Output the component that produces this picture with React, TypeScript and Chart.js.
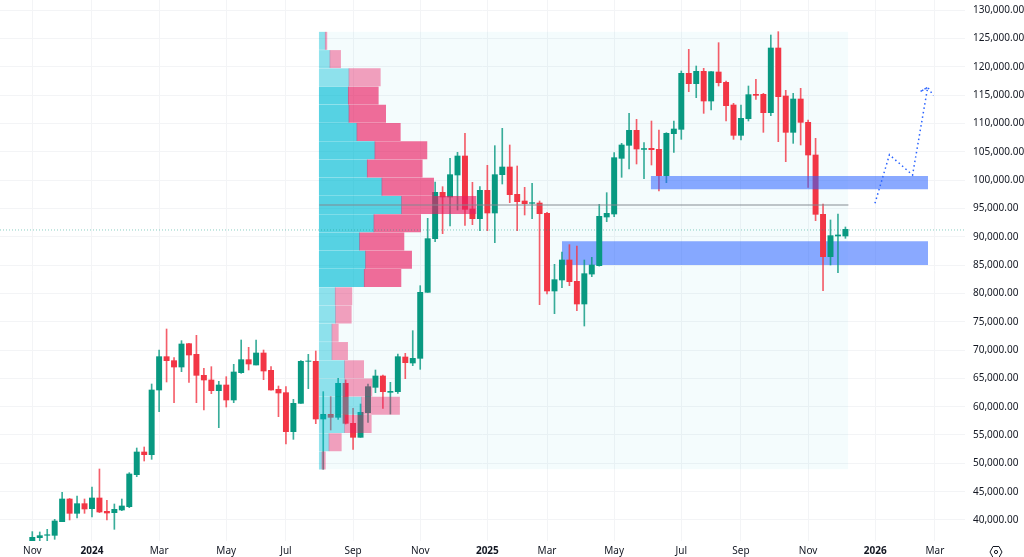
import React, { useEffect, useRef } from "react";
import { Chart, registerables } from "chart.js";

Chart.register(...registerables);

// weekly candles, first one is the week of 6 Nov 2023
const opens = [
  35040, 36885, 37300, 37294, 39706, 43706, 41177, 42884, 42000, 43884,
  41530, 41294, 41765, 42354, 48000, 52000, 51530, 62942, 68824, 68118,
  67000, 71118, 69236, 65530, 64706, 62824, 63824, 61177, 66000, 68294,
  67353, 69471, 66412, 63059, 62471, 55589, 60589, 68000, 68000, 57824,
  58648, 58118, 64118, 57059, 54589, 58941, 63412, 65412, 62530, 62647,
  68765, 67706, 68530, 80177, 89648, 97824, 97000, 100883, 104235, 94883,
  93176, 98176, 94176, 100941, 102294, 97470, 96294, 95883, 95941, 94118,
  80412, 82353, 85883, 82118, 78118, 83400, 84883, 93470, 94000, 103824,
  106118, 108765, 105400, 105588, 105412, 100765, 108176, 108941, 118823, 117000,
  119176, 113941, 119059, 117235, 113235, 107882, 110824, 115118, 115118, 111882,
  123294, 114823, 108412, 114294, 110177, 104412, 93942, 86472, 90118, 90118,
];
const highs = [
  37950, 37885, 38355, 40120, 44883, 43800, 44237, 43706, 45825, 49000,
  43472, 42825, 43706, 48354, 52706, 52883, 64000, 70000, 73706, 68647,
  71647, 71177, 72588, 66765, 67059, 64470, 65294, 67471, 71765, 70471,
  71765, 70000, 67059, 63647, 63530, 61294, 68118, 69236, 69824, 62648,
  61765, 65000, 64706, 59706, 60470, 64000, 66470, 65590, 64294, 69294,
  69412, 73412, 81353, 93236, 99647, 98824, 103823, 104882, 108235, 99588,
  98824, 102588, 106059, 109117, 106176, 102471, 98706, 99412, 96294, 94294,
  85118, 87294, 88588, 88353, 85883, 86353, 95706, 97765, 104823, 106471,
  111765, 110706, 106588, 110412, 108824, 108353, 110412, 119235, 123058, 120117,
  119705, 119117, 124235, 117470, 113529, 113235, 116588, 117765, 115294, 125588,
  126176, 115823, 115294, 116177, 110589, 107353, 95765, 92942, 94000, 91707,
];
const lows = [
  34530, 36300, 36355, 36590, 39700, 40000, 40355, 41177, 40530, 41300,
  40000, 38355, 41650, 42177, 47650, 50413, 50707, 59118, 64353, 60706,
  66177, 64295, 60706, 59412, 62294, 56294, 59942, 60706, 65883, 66471,
  67353, 64765, 62900, 58236, 53412, 54236, 60589, 63177, 57000, 48941,
  55883, 57765, 56941, 52470, 54589, 57235, 62470, 59706, 58706, 62353,
  64942, 67236, 66589, 80177, 89118, 90530, 91883, 94706, 92000, 92118,
  91059, 91059, 88941, 99294, 96000, 91059, 93824, 93176, 78000, 79882,
  76412, 81000, 81353, 76941, 74235, 82941, 84800, 92647, 93530, 100471,
  101942, 102824, 100236, 102647, 98060, 99530, 104883, 107177, 115588, 114530,
  111765, 112353, 116588, 110412, 107177, 107059, 110412, 114235, 108412, 111353,
  106765, 103235, 106470, 106177, 98706, 92824, 80472, 85000, 83648, 89707,
];
const closes = [
  36943, 37236, 37400, 39825, 43706, 41177, 42884, 41943, 43884, 41413,
  41236, 41883, 42471, 48120, 52000, 51530, 62942, 68824, 68118, 67000,
  71059, 69118, 65530, 64706, 62824, 63824, 61177, 66118, 68294, 67530,
  69471, 66294, 62942, 62412, 55589, 60589, 68000, 68060, 57824, 58648,
  58118, 64118, 57059, 54589, 59000, 63530, 65412, 62647, 62700, 68824,
  67765, 68530, 80177, 89648, 97824, 97000, 100942, 104235, 94824, 93176,
  98176, 94176, 100941, 102294, 97412, 96176, 95824, 96000, 94059, 80412,
  82412, 85883, 82059, 78118, 83471, 85000, 93588, 94118, 103941, 106177,
  108765, 105471, 105550, 105353, 100765, 108236, 109000, 118823, 117000, 119176,
  113941, 119117, 117176, 113118, 107882, 110882, 115059, 114941, 111882, 123294,
  114705, 108412, 114294, 110177, 104412, 93942, 86472, 90177, 90300, 91295,
];

// volume profile, top row first, widths are in candle widths
const profileStart = 38.47;
const profileEnd = 109.4;
const rowPrices = [
  124560, 121340, 118120, 114900, 111680, 108460, 105240, 102020,
  98800, 95580, 92360, 89140, 85920, 82700, 79480, 76260,
  73040, 69820, 66600, 63380, 60160, 56940, 53720, 50500,
];
const upVolume = [
  0.8, 1.43, 3.98, 3.89, 3.98, 5.05, 7.46, 6.43,
  8.4, 11.04, 7.33, 5.41, 6.21, 6.03, 2.14, 2.19,
  1.7, 1.7, 3.4, 3.44, 5.67, 3.4, 1.3, 0.36,
];
const downVolume = [
  0.22, 1.43, 4.2, 4.02, 4.92, 5.81, 6.97, 7.37,
  6.93, 9.96, 6.26, 5.94, 6.17, 4.92, 2.23, 2.1,
  0.85, 2.1, 2.55, 3.62, 5.09, 3.57, 1.65, 0.45,
];
const valueAreaFirst = 3;
const valueAreaLast = 13;
const profileTop = 126170;
const profileBottom = 48947;
const pocPrice = 95600;
const lastPrice = 91180;

// blue zones: first bar, last bar, top, bottom
const upperZone = [82.9, 120.07, 100700, 98350];
const lowerZone = [71, 120.07, 89200, 85000];

// hand drawn arrow
const arrowX = [112.96, 114.9, 118, 120.03, 119, 120.03, 120.8];
const arrowY = [95888, 104465, 100882, 116359, 115582, 116359, 114877];

const xTicks = [0, 8, 17, 26, 34, 43, 52, 61, 69, 78, 87, 95, 104, 113, 121];
const xLabels = [
  "Nov", "2024", "Mar", "May", "Jul", "Sep", "Nov", "2025",
  "Mar", "May", "Jul", "Sep", "Nov", "2026", "Mar",
];
const yTicks = [
  40000, 45000, 50000, 55000, 60000, 65000, 70000, 75000, 80000, 85000,
  90000, 95000, 100000, 105000, 110000, 115000, 120000, 125000, 130000,
];

const UP = "#089981";
const DOWN = "#F23645";
const UP_WICK = "rgba(8,153,129,0.8)";
const DOWN_WICK = "rgba(242,54,69,0.8)";
const FONT = "'Noto Sans', sans-serif";

const isYear = (label: string) => /^\d{4}$/.test(label);

const App: React.FC = () => {
  const canvasRef = useRef<HTMLCanvasElement | null>(null);

  useEffect(() => {
    if (!canvasRef.current) return;
    const ctx = canvasRef.current.getContext("2d");
    if (!ctx) return;

    const xMin = -4.33;
    const xMax = 125.03;

    const isUp = (i: number) => closes[i] >= opens[i];

    // filled rectangle between two prices
    const box = (x0: number, x1: number, top: number, bottom: number, color: string, order: number) => ({
      type: "line" as const,
      data: [
        { x: x0, y: top },
        { x: x1, y: top },
      ],
      borderWidth: 0,
      pointRadius: 0,
      backgroundColor: color,
      fill: { value: bottom },
      order,
    });

    const chart = new Chart(ctx, {
      type: "bar",
      data: {
        datasets: [
          box(profileStart, profileEnd, profileTop, profileBottom, "rgba(0,188,212,0.045)", 10),
          box(lowerZone[0], lowerZone[1], lowerZone[2], lowerZone[3], "rgba(41,98,255,0.55)", 9),
          {
            // wicks
            data: opens.map((_, i) => ({ x: i, y: [lows[i], highs[i]] })),
            backgroundColor: (c: any) => (isUp(c.dataIndex) ? UP_WICK : DOWN_WICK),
            barThickness: 1,
            grouped: false,
            order: 8,
          },
          {
            // bodies
            data: opens.map((o, i) => ({ x: i, y: [o, closes[i]] })),
            backgroundColor: (c: any) => (isUp(c.dataIndex) ? UP : DOWN),
            barThickness: 5.3,
            grouped: false,
            order: 7,
          },
          {
            indexAxis: "y",
            data: rowPrices.map((p, i) => ({
              y: p,
              x: [profileStart, profileStart + upVolume[i]],
            })),
            backgroundColor: (c: any) =>
              c.dataIndex >= valueAreaFirst && c.dataIndex <= valueAreaLast
                ? "rgba(0,188,212,0.65)"
                : "rgba(0,188,212,0.42)",
            barThickness: 17.3,
            grouped: false,
            order: 6,
          },
          {
            indexAxis: "y",
            data: rowPrices.map((p, i) => ({
              y: p,
              x: [profileStart + upVolume[i], profileStart + upVolume[i] + downVolume[i]],
            })),
            backgroundColor: (c: any) =>
              c.dataIndex >= valueAreaFirst && c.dataIndex <= valueAreaLast
                ? "rgba(233,30,99,0.65)"
                : "rgba(233,30,99,0.42)",
            barThickness: 17.3,
            grouped: false,
            order: 5,
          },
          {
            type: "line",
            data: [
              { x: profileStart, y: pocPrice },
              { x: profileEnd, y: pocPrice },
            ],
            borderColor: "rgba(131,137,145,0.65)",
            borderWidth: 1.5,
            pointRadius: 0,
            order: 4,
          },
          box(upperZone[0], upperZone[1], upperZone[2], upperZone[3], "rgba(41,98,255,0.55)", 3),
          {
            type: "line",
            data: [
              { x: xMin, y: lastPrice },
              { x: xMax, y: lastPrice },
            ],
            borderColor: "rgba(8,153,129,0.6)",
            borderWidth: 0.8,
            borderDash: [1, 2],
            pointRadius: 0,
            order: 2,
          },
          {
            type: "line",
            data: arrowX.map((x, i) => ({ x, y: arrowY[i] })),
            borderColor: "#2962FF",
            borderWidth: 1.5,
            borderDash: [1.5, 3],
            pointRadius: 0,
            tension: 0,
            order: 1,
          },
        ] as any,
      },
      options: {
        animation: false,
        responsive: false,
        events: [],
        layout: { padding: 0 },
        plugins: {
          legend: { display: false },
          tooltip: { enabled: false },
        },
        scales: {
          x: {
            type: "linear",
            min: xMin,
            max: xMax,
            offset: false,
            grid: { color: "#f3f4f6", drawTicks: false, offset: false },
            border: { display: false },
            afterBuildTicks: (scale: any) => {
              scale.ticks = xTicks.map((value) => ({ value }));
            },
            afterFit: (scale: any) => {
              scale.height = 16;
              scale.paddingLeft = 0;
              scale.paddingRight = 0;
            },
            ticks: {
              autoSkip: false,
              maxRotation: 0,
              padding: 4,
              color: "#131722",
              font: (c: any) => {
                const label = xLabels[xTicks.indexOf(c.tick?.value)] ?? "";
                return { family: FONT, size: 10, weight: isYear(label) ? "bold" : "normal" };
              },
              callback: (value: any) => xLabels[xTicks.indexOf(value)] ?? "",
            },
          },
          y: {
            type: "linear",
            position: "right",
            min: 36294,
            max: 131765,
            // the horizontal profile bars would otherwise turn offset on here
            offset: false,
            grid: { color: "#f3f4f6", drawTicks: false, offset: false },
            border: { display: false },
            afterBuildTicks: (scale: any) => {
              scale.ticks = yTicks.map((value) => ({ value }));
            },
            afterFit: (scale: any) => {
              // edge tick labels must not shrink the plot area
              scale.width = 59;
              scale.paddingTop = 0;
              scale.paddingBottom = 0;
            },
            ticks: {
              padding: 8,
              color: "#131722",
              font: { family: FONT, size: 10 },
              callback: (value: any) =>
                Number(value).toLocaleString("en-US", {
                  minimumFractionDigits: 2,
                  maximumFractionDigits: 2,
                }),
            },
          },
        },
      } as any,
    });

    return () => {
      chart.destroy();
    };
  }, []);

  return (
    <div style={{ position: "fixed", left: 0, top: 0, width: 1024, height: 557, background: "#fff" }}>
      <canvas ref={canvasRef} width={1024} height={557} style={{ display: "block" }} />
      <svg
        width="14"
        height="14"
        viewBox="0 0 14 14"
        style={{ position: "absolute", left: 989, top: 545 }}
        fill="none"
        stroke="#131722"
        strokeWidth="1"
      >
        <path d="M4 1.5h6L13 7l-3 5.5H4L1 7z" />
        <circle cx="7" cy="7" r="1.6" />
      </svg>
    </div>
  );
};

export default App;
